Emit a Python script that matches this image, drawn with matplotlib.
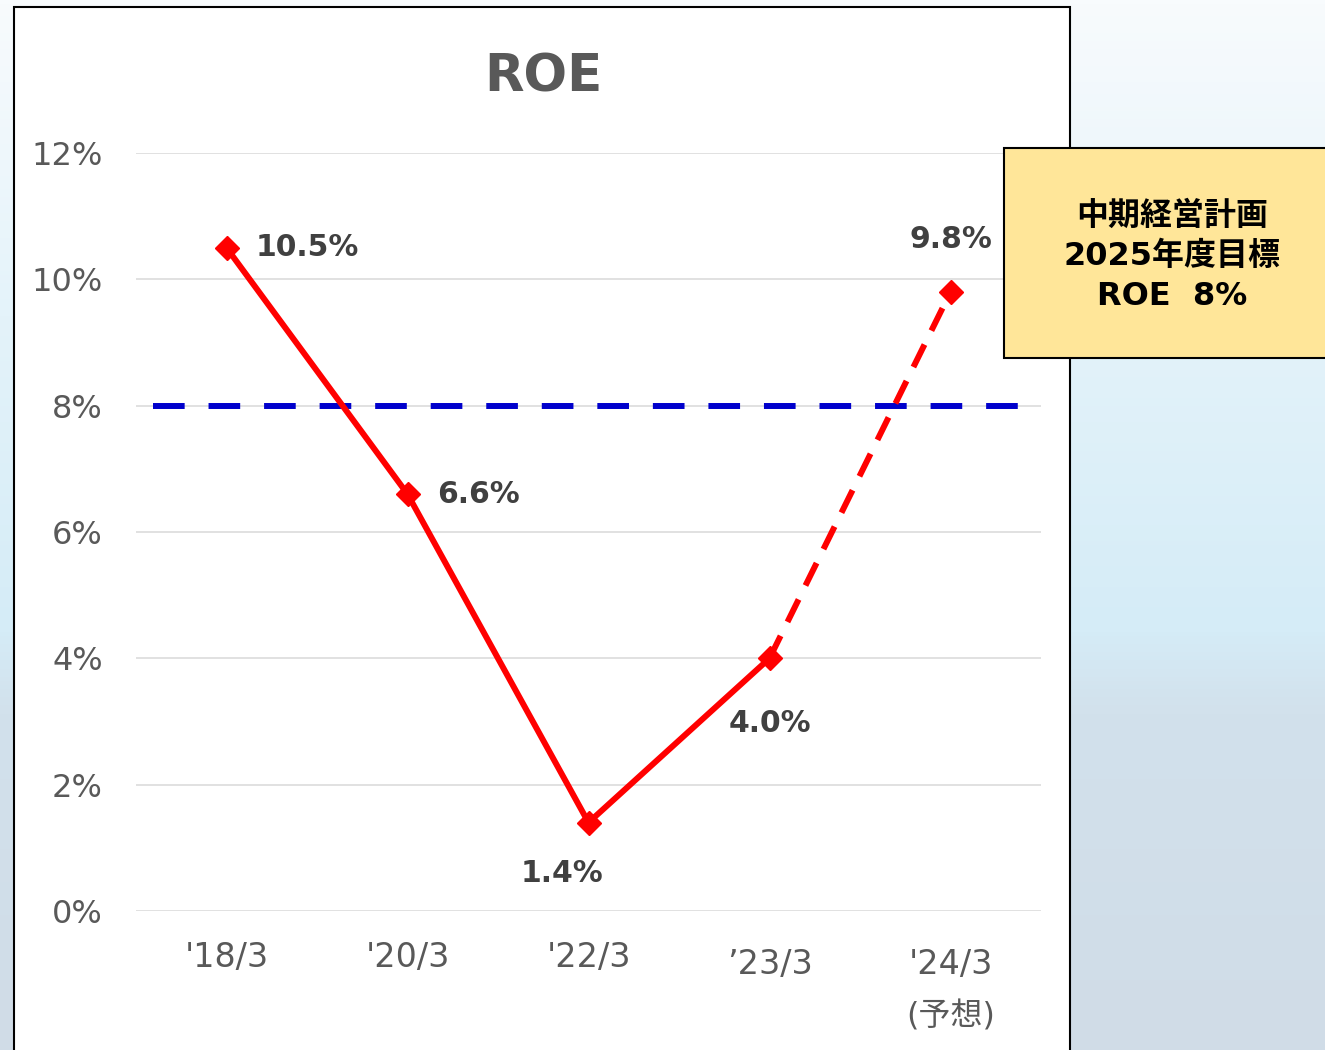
import matplotlib
matplotlib.use("Agg")
import matplotlib.pyplot as plt
import numpy as np
from matplotlib.colors import LinearSegmentedColormap
from matplotlib.patches import Rectangle

plt.rcParams['font.family'] = ['DejaVu Sans', 'Noto Sans CJK JP']

# data
periods = ["'18/3", "'20/3", "'22/3", "\u201923/3", "'24/3"]
roe = [10.5, 6.6, 1.4, 4.0, 9.8]
roe_labels = ["10.5%", "6.6%", "1.4%", "4.0%", "9.8%"]
forecast_note = "(予想)"
target = 8.0
y_ticks = [0, 2, 4, 6, 8, 10, 12]
box_text = "中期経営計画\n2025年度目標\nROE  8%"

fig = plt.figure(figsize=(13.25, 10.5), dpi=100)

# light blue background
bg = fig.add_axes([0, 0, 1, 1], zorder=-10)
bg_cmap = LinearSegmentedColormap.from_list(
    "bg", [(0, "#F8FBFD"), (0.3, "#E4F3FA"), (0.6, "#D5ECF7"),
           (0.68, "#D2E1EC"), (1, "#D0DCE7")])
bg.imshow(np.linspace(0, 1, 256).reshape(-1, 1), aspect="auto", cmap=bg_cmap,
          extent=[0, 1, 0, 1])
bg.axis("off")

# white chart panel
fig.add_artist(Rectangle((14 / 1325, -0.05), (1070 - 14) / 1325, 1.05 - 7 / 1050,
                         transform=fig.transFigure, facecolor="white",
                         edgecolor="black", linewidth=1.5, zorder=-5))

ax = fig.add_axes([136 / 1325, 1 - 911 / 1050, (1041 - 136) / 1325, (911 - 153) / 1050])
ax.set_facecolor("none")
x = np.arange(len(periods))

ax.set_xlim(-0.5, len(periods) - 0.5)
ax.set_ylim(0, 12)
ax.set_yticks(y_ticks)
ax.set_yticklabels([f"{v}%" for v in y_ticks], fontsize=23, color="#595959")
ax.tick_params(axis="y", length=0, pad=24)
ax.set_xticks([])
for s in ax.spines.values():
    s.set_visible(False)
for v in y_ticks:
    ax.axhline(v, color="#D9D9D9", linewidth=1.1, zorder=0)

# target line
ax.axhline(target, color="#0000CC", linewidth=4.3, xmin=0.019, xmax=0.982,
           dashes=(5.3, 4.0), dash_capstyle="butt", zorder=2)

# actual (solid) and forecast (dashed)
ax.plot(x[:4], roe[:4], color="#FF0000", linewidth=4.3, zorder=3,
        solid_capstyle="butt")
ax.plot(x[3:], roe[3:], color="#FF0000", linewidth=4.3, zorder=3,
        dashes=(4.2, 2.6), dash_capstyle="butt")
ax.plot(x, roe, linestyle="none", marker="D", markersize=12.5,
        color="#FF0000", zorder=4)

# data labels
offsets = [(21, 0, "left"), (21, 0, "left"), (-19, -37, "center"),
           (0, -47, "center"), (0, 38, "center")]
for xi, yi, lab, (dx, dy, ha) in zip(x, roe, roe_labels, offsets):
    ax.annotate(lab, (xi, yi), xytext=(dx, dy), textcoords="offset points",
                ha=ha, va="center", fontsize=21.5, fontweight="bold",
                color="#404040", annotation_clip=False)

# category labels
label_y = [-0.061, -0.061, -0.061, -0.070, -0.070]
for xi, lab, ly in zip(x, periods, label_y):
    ax.text(xi, ly, lab, transform=ax.get_xaxis_transform(), ha="center",
            va="center", fontsize=24, color="#595959")
ax.text(x[-1], -0.140, forecast_note, transform=ax.get_xaxis_transform(),
        ha="center", va="center", fontsize=23, color="#595959")

# title
fig.text(543 / 1325, 1 - 77 / 1050, "ROE", ha="center", va="center",
         fontsize=37, fontweight="bold", color="#595959")

# target box
fig.add_artist(Rectangle((1004 / 1325, 1 - 358 / 1050), 0.3, 210 / 1050,
                         transform=fig.transFigure, facecolor="#FFE699",
                         edgecolor="black", linewidth=1.5, zorder=5))
fig.text(1172 / 1325, 1 - 256 / 1050, box_text, ha="center", va="center",
         fontsize=23, fontweight="bold", color="black", linespacing=1.38,
         zorder=6)

fig.savefig("out.png", dpi=100)
